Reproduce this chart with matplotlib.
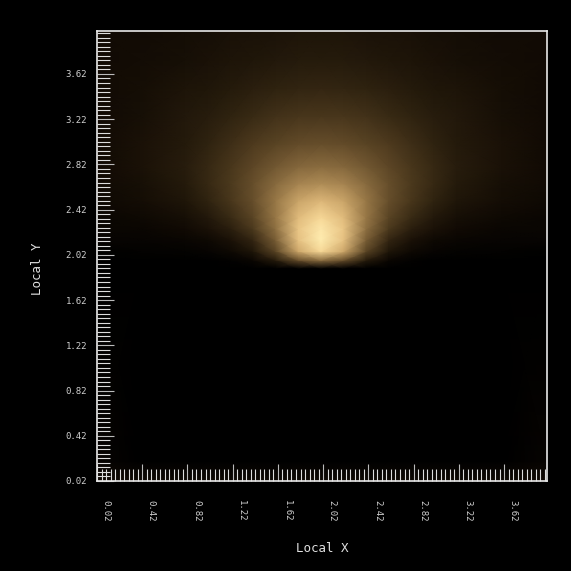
import numpy as np
import matplotlib
matplotlib.use("Agg")
import matplotlib.pyplot as plt
from matplotlib.colors import LinearSegmentedColormap
from matplotlib.ticker import FixedLocator
import matplotlib.transforms as mtransforms

# sample points of the light field (local coordinates)
x_cols = [0.02, 0.4, 0.8, 1.0, 1.2, 1.4, 1.6, 1.8, 2.0, 2.2, 2.4, 2.6, 2.8, 3.0, 3.2, 3.6, 4.0]
y_rows = [0.02, 0.2, 1.90, 1.97, 2.05, 2.15, 2.25, 2.35, 2.5, 2.65, 2.8, 3.0, 3.25, 3.5, 3.75, 4.0]

# relative brightness, one list per row (bottom to top)
row_002 = [0.05, 0.04, 0.04, 0.04, 0.04, 0.04, 0.04, 0.04, 0.04, 0.04, 0.04, 0.04, 0.04, 0.04, 0.04, 0.04, 0.05]
row_020 = [0.02, 0.0, 0.0, 0.0, 0.0, 0.0, 0.0, 0.0, 0.0, 0.0, 0.0, 0.0, 0.0, 0.0, 0.0, 0.0, 0.02]
row_190 = [0.0, 0.0, 0.0, 0.0, 0.0, 0.0, 0.0, 0.0, 0.0, 0.0, 0.0, 0.0, 0.0, 0.0, 0.0, 0.0, 0.0]
row_197 = [0.0, 0.0, 0.0, 0.0, 0.01, 0.03, 0.12, 0.33, 0.45, 0.33, 0.12, 0.03, 0.01, 0.0, 0.0, 0.0, 0.0]
row_205 = [0.005, 0.01, 0.015, 0.02, 0.04, 0.1, 0.3, 0.68, 0.88, 0.68, 0.3, 0.1, 0.04, 0.02, 0.015, 0.01, 0.005]
row_215 = [0.02, 0.02, 0.03, 0.04, 0.08, 0.17, 0.4, 0.78, 1.0, 0.78, 0.4, 0.17, 0.08, 0.04, 0.03, 0.02, 0.02]
row_225 = [0.03, 0.03, 0.05, 0.08, 0.14, 0.25, 0.47, 0.8, 0.97, 0.8, 0.47, 0.25, 0.14, 0.08, 0.05, 0.03, 0.03]
row_235 = [0.03, 0.04, 0.07, 0.11, 0.19, 0.3, 0.5, 0.76, 0.88, 0.76, 0.5, 0.3, 0.19, 0.11, 0.07, 0.04, 0.03]
row_250 = [0.04, 0.06, 0.1, 0.16, 0.24, 0.34, 0.5, 0.67, 0.74, 0.67, 0.5, 0.34, 0.24, 0.16, 0.1, 0.06, 0.04]
row_265 = [0.05, 0.07, 0.12, 0.18, 0.25, 0.34, 0.45, 0.55, 0.58, 0.55, 0.45, 0.34, 0.25, 0.18, 0.12, 0.07, 0.05]
row_280 = [0.05, 0.08, 0.13, 0.18, 0.24, 0.31, 0.38, 0.44, 0.46, 0.44, 0.38, 0.31, 0.24, 0.18, 0.13, 0.08, 0.05]
row_300 = [0.05, 0.08, 0.12, 0.16, 0.21, 0.26, 0.3, 0.33, 0.34, 0.33, 0.3, 0.26, 0.21, 0.16, 0.12, 0.08, 0.05]
row_325 = [0.05, 0.07, 0.11, 0.13, 0.16, 0.19, 0.22, 0.235, 0.24, 0.235, 0.22, 0.19, 0.16, 0.13, 0.11, 0.07, 0.05]
row_350 = [0.05, 0.065, 0.09, 0.1, 0.12, 0.14, 0.155, 0.165, 0.17, 0.165, 0.155, 0.14, 0.12, 0.1, 0.09, 0.065, 0.05]
row_375 = [0.05, 0.055, 0.07, 0.08, 0.09, 0.1, 0.11, 0.12, 0.12, 0.12, 0.11, 0.1, 0.09, 0.08, 0.07, 0.055, 0.05]
row_400 = [0.05, 0.05, 0.06, 0.065, 0.075, 0.08, 0.085, 0.09, 0.09, 0.09, 0.085, 0.08, 0.075, 0.065, 0.06, 0.05, 0.05]

tick_values = [0.02, 0.42, 0.82, 1.22, 1.62, 2.02, 2.42, 2.82, 3.22, 3.62]
tick_labels = ["0.02", "0.42", "0.82", "1.22", "1.62", "2.02", "2.42", "2.82", "3.22", "3.62"]

intensity = np.array([row_002, row_020, row_190, row_197, row_205, row_215, row_225, row_235,
                      row_250, row_265, row_280, row_300, row_325, row_350, row_375, row_400])
X, Y = np.meshgrid(x_cols, y_rows)

warm = LinearSegmentedColormap.from_list("warm", [
    (0.0, "#000000"),
    (0.05, "#120b04"),
    (0.15, "#2d210f"),
    (0.3, "#5a4424"),
    (0.5, "#967646"),
    (0.7, "#d2ac6e"),
    (0.85, "#f5d291"),
    (1.0, "#ffecaf"),
])

fig = plt.figure(figsize=(5.71, 5.71), dpi=100, facecolor="black")
ax = fig.add_axes([97 / 571, 1 - 481 / 571, 450 / 571, 450 / 571])
ax.set_facecolor("black")

ax.pcolormesh(X, Y, intensity, shading="gouraud", cmap=warm, vmin=0, vmax=1)

ax.set_xlim(0.02, 4.0)
ax.set_ylim(0.02, 4.0)

for a in (ax.xaxis, ax.yaxis):
    a.set_major_locator(FixedLocator(tick_values))
    a.set_minor_locator(FixedLocator(np.arange(0.02, 4.0, 0.04)))
ax.set_xticklabels(tick_labels)
ax.set_yticklabels(tick_labels)

ax.tick_params(which="major", direction="in", length=12.5, width=0.8, color="#bbbbbb",
               labelcolor="#d0d0d0", labelsize=6.5)
ax.tick_params(which="minor", direction="in", length=9, width=0.8, color="#dddddd")
ax.tick_params(axis="x", which="major", pad=13.5, labelrotation=-90)
ax.tick_params(axis="y", which="major", pad=7)
for lab in ax.get_xticklabels() + ax.get_yticklabels():
    lab.set_family("DejaVu Sans Mono")
shift = mtransforms.ScaledTranslation(9 / 100, 0, fig.dpi_scale_trans)
for lab in ax.get_xticklabels():
    lab.set_transform(lab.get_transform() + shift)

for sp in ax.spines.values():
    sp.set_color("#e8e8e8")
    sp.set_linewidth(1.2)

ax.set_xlabel("Local X", color="#e0e0e0", fontsize=9, family="DejaVu Sans Mono", va="center")
ax.set_ylabel("Local Y", color="#e0e0e0", fontsize=9, family="DejaVu Sans Mono", va="center")
ax.xaxis.set_label_coords(0.5, -0.151)
ax.yaxis.set_label_coords(-0.133, 0.471)

fig.savefig("out.png", dpi=100, facecolor="black")
